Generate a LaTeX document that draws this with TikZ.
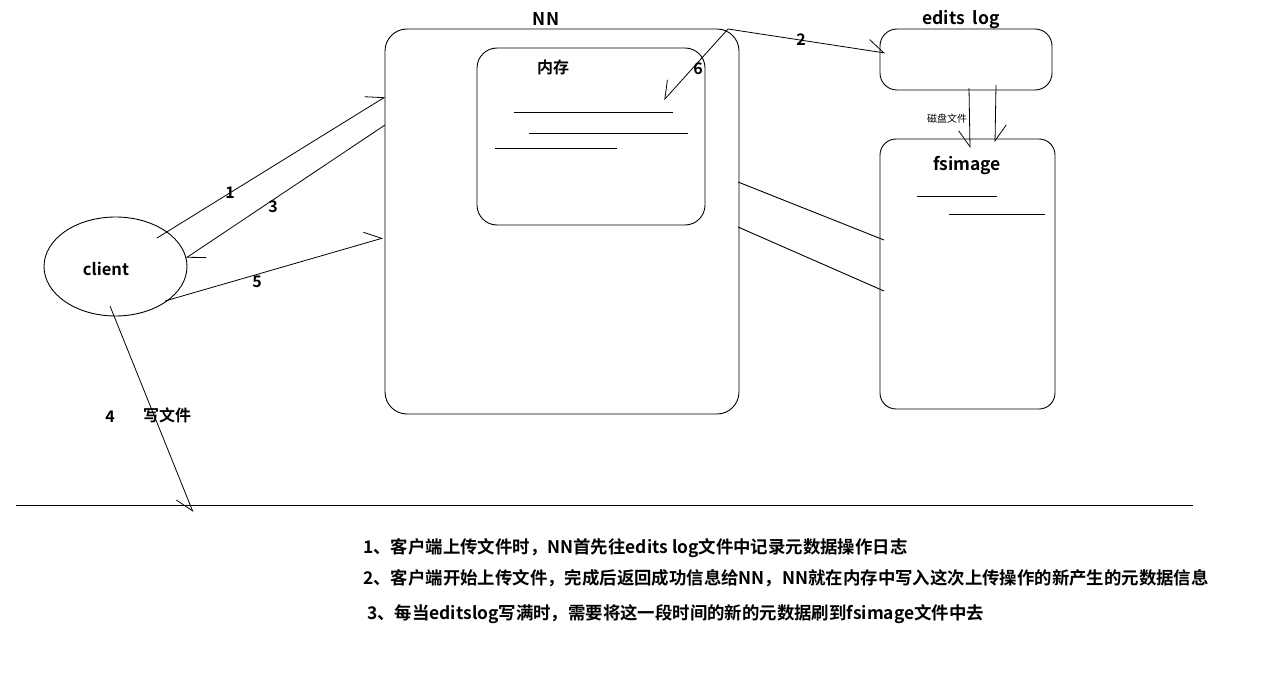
\documentclass[tikz,border=0pt]{standalone}
\usepackage{fontspec}
\setmainfont{Noto Sans CJK SC}
\newfontfamily\cjkb{Noto Sans CJK SC}[BoldFont={Noto Sans CJK SC Bold}]
\usetikzlibrary{arrows.meta,shapes.geometric}
\begin{document}
\begin{tikzpicture}[x=1pt,y=-1pt,
  every node/.style={font=\cjkb\bfseries},
  box/.style={draw,line width=0.9pt,inner sep=0pt},
  lbl/.style={font=\cjkb\bfseries\fontsize{16}{18}\selectfont,inner sep=0pt},
  ttl/.style={font=\cjkb\bfseries\fontsize{17.5}{19}\selectfont,inner sep=0pt},
  ln/.style={line width=0.9pt},
  arr/.style={line width=0.8pt,-{Straight Barb[harpoon,length=16pt,width=22pt,line width=0.8pt]}},
  arrs/.style={line width=0.8pt,-{Straight Barb[harpoon,swap,length=16pt,width=22pt,line width=0.8pt]}},
  note/.style={anchor=west,inner sep=0pt,font=\cjkb\bfseries\fontsize{17.4}{19}\selectfont}]
\useasboundingbox (0,0) rectangle (1268,679);
% boxes
\node[box,rounded corners=22pt,minimum width=354pt,minimum height=385pt] (nn) at (562,221.5) {};
\node[box,rounded corners=20pt,minimum width=228pt,minimum height=177pt] (mem) at (591,136.5) {};
\node[box,rounded corners=17pt,minimum width=172pt,minimum height=61pt] (edits) at (966,59.5) {};
\node[box,rounded corners=16pt,minimum width=175pt,minimum height=270pt] (fs) at (967.5,274) {};
\node[box,ellipse,minimum width=143pt,minimum height=99pt] (client) at (115.5,266.5) {};
% titles
\node[ttl] (nnt) at (546,19) {NN};
\node[lbl] (memt) at (553,67) {内存};
\node[ttl] (editst) at (961,20) {edits\ \ log};
\node[ttl] (fst) at (967,166) {fsimage};
\node[lbl,font=\cjkb\bfseries\fontsize{16.5}{18}\selectfont] (clientt) at (106,269) {client};
\node[inner sep=0pt,font=\cjkb\fontsize{10}{12}\selectfont] (disk) at (947,119) {磁盘文件};
% memory lines
\coordinate (m1a) at (514,112); \coordinate (m1b) at (673,112);
\coordinate (m2a) at (529,133); \coordinate (m2b) at (688,133);
\coordinate (m3a) at (495,148); \coordinate (m3b) at (617,148);
\draw[ln] (m1a) -- (m1b);
\draw[ln] (m2a) -- (m2b);
\draw[ln] (m3a) -- (m3b);
% fsimage lines
\coordinate (f1a) at (917,196); \coordinate (f1b) at (997,196);
\coordinate (f2a) at (949,214); \coordinate (f2b) at (1045,214);
\draw[ln] (f1a) -- (f1b);
\draw[ln] (f2a) -- (f2b);
% connector endpoints
\coordinate (c1) at (157,238); \coordinate (n1) at (385,97);
\coordinate (n3) at (385,125); \coordinate (c3) at (186,258);
\coordinate (c5) at (165,301); \coordinate (n5) at (383,238);
\coordinate (c4) at (110,306); \coordinate (g4) at (193,512);
\coordinate (ntr) at (728,29); \coordinate (e2) at (885,53); \coordinate (m6) at (664,100);
\coordinate (eL) at (969,88); \coordinate (fL) at (970,148);
\coordinate (eR) at (996,85); \coordinate (fR) at (995,142);
\coordinate (nA) at (738,182); \coordinate (fA) at (884,240);
\coordinate (nB) at (738,227); \coordinate (fB) at (884,291);
\coordinate (gl) at (16,505); \coordinate (gr) at (1193,505);
% connectors
\draw[arr] (c1) -- (n1);
\draw[arr] (n3) -- (c3);
\draw[arr] (c5) -- (n5);
\draw[arrs] (c4) -- (g4);
\draw[arr] (ntr) -- (e2);
\draw[arrs] (ntr) -- (m6);
\draw[arrs] (eL) -- (fL);
\draw[arr] (eR) -- (fR);
\draw[ln] (nA) -- (fA);
\draw[ln] (nB) -- (fB);
\draw[ln] (gl) -- (gr);
% step labels
\node[lbl] (l1) at (230,193) {1};
\node[lbl] (l2) at (801,40) {2};
\node[lbl] (l3) at (273,207) {3};
\node[lbl] (l4) at (110,417) {4};
\node[lbl] (l4t) at (167,415) {写文件};
\node[lbl] (l5) at (257,282) {5};
\node[lbl] (l6) at (698,69) {6};
% notes
\node[note] (t1) at (363,548) {1、客户端上传文件时，NN首先往edits log文件中记录元数据操作日志};
\node[note] (t2) at (363,578) {2、客户端开始上传文件，完成后返回成功信息给NN，NN就在内存中写入这次上传操作的新产生的元数据信息};
\node[note] (t3) at (367,614) {3、每当editslog写满时，需要将这一段时间的新的元数据刷到fsimage文件中去};
\end{tikzpicture}
\end{document}
